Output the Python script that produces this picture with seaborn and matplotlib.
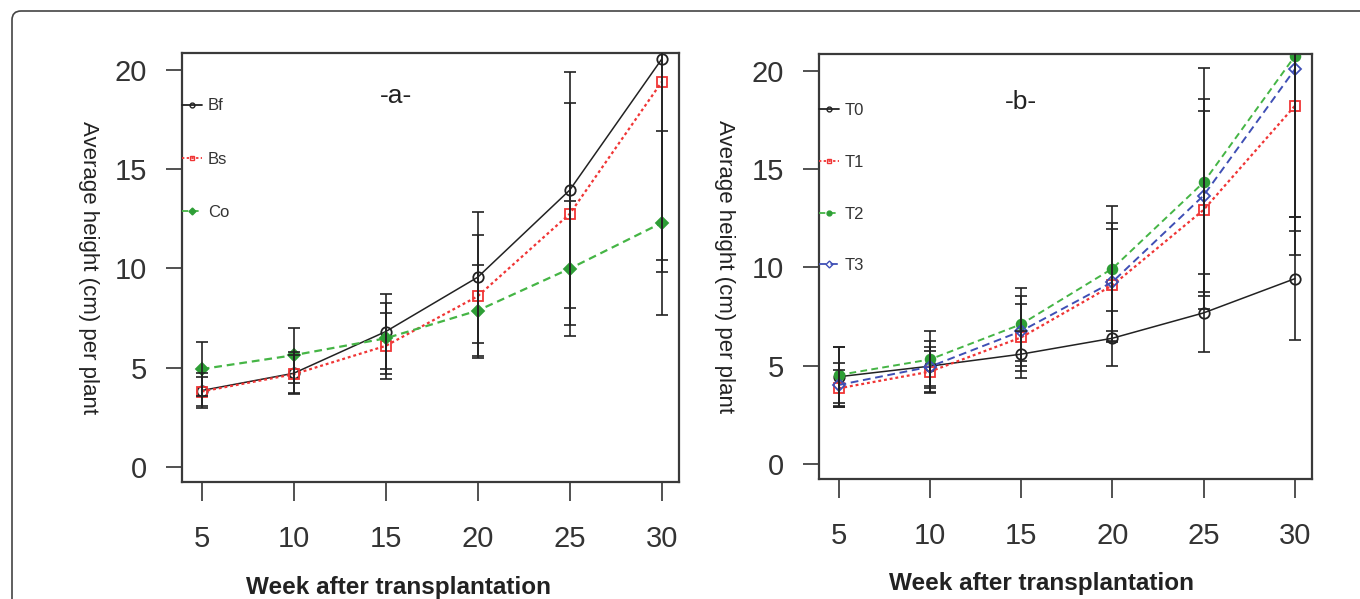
import numpy as np
import pandas as pd
import seaborn as sns
import matplotlib
matplotlib.use("Agg")
import matplotlib.pyplot as plt
from matplotlib.lines import Line2D
from matplotlib.patches import FancyBboxPatch

# ---------------- data ----------------
weeks = [5, 10, 15, 20, 25, 30]

a_labels = ["Bf", "Bs", "Co"]
a_bf = [3.85, 4.72, 6.82, 9.56, 13.95, 20.55]
a_bs = [3.80, 4.67, 6.10, 8.60, 12.75, 19.40]
a_co = [4.93, 5.63, 6.48, 7.88, 9.99, 12.30]
a_bf_err = [0.90, 1.05, 1.88, 3.30, 5.95, 10.10]
a_bs_err = [0.75, 0.95, 1.65, 3.10, 5.60, 9.60]
a_co_err = [1.38, 1.39, 1.80, 2.30, 3.40, 4.64]

b_labels = ["T0", "T1", "T2", "T3"]
b_t0 = [4.44, 4.98, 5.59, 6.40, 7.69, 9.43]
b_t1 = [3.85, 4.70, 6.44, 9.09, 12.93, 18.22]
b_t2 = [4.53, 5.32, 7.11, 9.94, 14.33, 20.75]
b_t3 = [4.02, 4.95, 6.76, 9.26, 13.66, 20.08]
b_t0_err = [1.49, 1.30, 1.20, 1.40, 2.00, 3.13]
b_t1_err = [0.95, 1.07, 1.72, 2.88, 5.04, 7.60]
b_t2_err = [1.40, 1.44, 1.87, 3.17, 5.80, 8.20]
b_t3_err = [1.10, 1.00, 1.77, 3.00, 4.90, 8.20]

y_ticks = [0, 5, 10, 15, 20]
x_label = "Week after transplantation"
y_label = "Average height (cm) per plant"
titles = ["-a-", "-b-"]

# ---------------- styles ----------------
BLACK = "#222222"
RED = "#F03535"
GREEN = "#45B545"
GREEN_M = "#2E9E36"
BLUE = "#3F4FB5"

sty = {
    "Bf": dict(color=BLACK, ls="-", marker="o", mfc="none", mec=BLACK, ms=7.5, lw=1.1),
    "Bs": dict(color=RED, ls=(0, (1.3, 1.3)), marker="s", mfc="none", mec=RED, ms=7.5, lw=1.6),
    "Co": dict(color=GREEN, ls=(0, (3.5, 2.2)), marker="D", mfc=GREEN_M, mec=GREEN_M, ms=6.5, lw=1.6),
    "T0": dict(color=BLACK, ls="-", marker="o", mfc="none", mec=BLACK, ms=7.5, lw=1.1),
    "T1": dict(color=RED, ls=(0, (1.3, 1.3)), marker="s", mfc="none", mec=RED, ms=7.5, lw=1.6),
    "T2": dict(color=GREEN, ls=(0, (3.5, 2.2)), marker="o", mfc=GREEN_M, mec=GREEN_M, ms=7, lw=1.4),
    "T3": dict(color=BLUE, ls=(0, (4.0, 2.4)), marker="D", mfc="none", mec=BLUE, ms=6.5, lw=1.4),
}

sns.set_style("white")
plt.rcParams["font.family"] = ["Liberation Sans", "DejaVu Sans"]

fig = plt.figure(figsize=(13.6, 5.99), dpi=100)
fig.patch.set_facecolor("white")

# outer rounded frame (open on right/bottom like the cropped figure)
frame = FancyBboxPatch((0.12, -1.0), 20, 5.88 + 1.0,
                       boxstyle="round,pad=0,rounding_size=0.09",
                       transform=fig.dpi_scale_trans, fill=False,
                       edgecolor="#444444", linewidth=1.2, clip_on=False)
fig.patches.append(frame)

ax_a = fig.add_axes([182 / 1360, 1 - 482 / 599, (679 - 182) / 1360, (482 - 53) / 599])
ax_b = fig.add_axes([819 / 1360, 1 - 479 / 599, (1312 - 819) / 1360, (479 - 54) / 599])


def draw_panel(ax, names, means, errs, title, title_xy, ylab_x, xlab_x, leg_anchor, leg_space):
    for name, m, e in zip(names, means, errs):
        s = sty[name]
        sns.lineplot(x=weeks, y=m, ax=ax, color=s["color"], linestyle=s["ls"],
                     linewidth=s["lw"], marker=s["marker"], markersize=s["ms"],
                     markerfacecolor=s["mfc"], markeredgecolor=s["mec"],
                     markeredgewidth=1.3, errorbar=None, legend=False, zorder=2)
    for name, m, e in zip(names, means, errs):
        ax.errorbar(weeks, m, yerr=e, fmt="none", ecolor=BLACK, elinewidth=1.2,
                    capsize=4.2, capthick=1.2, zorder=3)

    ax.set_xlim(3.93, 30.94)
    ax.set_ylim(-0.76, 20.86)
    ax.set_xticks(weeks)
    ax.set_yticks(y_ticks)
    ax.tick_params(axis="y", length=11.5, width=1.2, color="#333333", pad=13.5,
                   labelsize=21, labelcolor="#333333", left=True, direction="out")
    ax.tick_params(axis="x", length=13.5, width=1.2, color="#333333", pad=17.5,
                   labelsize=21, labelcolor="#333333", bottom=True, direction="out")
    for sp in ax.spines.values():
        sp.set_visible(True)
        sp.set_color("#3a3a3a")
        sp.set_linewidth(1.6)

    ax.set_ylabel(y_label, rotation=270, fontsize=16, color="#222222", va="center")
    ax.yaxis.set_label_coords(ylab_x, 0.5)
    ax.set_xlabel(x_label, fontsize=17.5, fontweight="bold", color="#222222", va="center")
    ax.xaxis.set_label_coords(xlab_x, -0.245)

    ax.text(title_xy[0], title_xy[1], title, transform=ax.transAxes, fontsize=19,
            ha="center", va="center", color="#222222")

    handles = []
    for name in names:
        s = sty[name]
        handles.append(Line2D([0], [0], color=s["color"], linestyle=s["ls"], linewidth=1.3,
                              marker=s["marker"], markersize=3.5,
                              markerfacecolor=s["mfc"], markeredgecolor=s["mec"],
                              markeredgewidth=1.0))
    leg = ax.legend(handles, names, loc="upper left", bbox_to_anchor=leg_anchor,
                    frameon=False, fontsize=12, handlelength=1.2, handletextpad=0.35,
                    labelspacing=leg_space, borderaxespad=0, borderpad=0)
    for t in leg.get_texts():
        t.set_color("#333333")


draw_panel(ax_a, a_labels, [a_bf, a_bs, a_co], [a_bf_err, a_bs_err, a_co_err],
           titles[0], (0.43, 0.90), -0.189, 0.435, (0.0, 0.894), 2.3)
draw_panel(ax_b, b_labels, [b_t0, b_t1, b_t2, b_t3],
           [b_t0_err, b_t1_err, b_t2_err, b_t3_err],
           titles[1], (0.41, 0.887), -0.191, 0.452, (0.0, 0.884), 2.2)

fig.savefig("out.png", dpi=100, facecolor="white")
